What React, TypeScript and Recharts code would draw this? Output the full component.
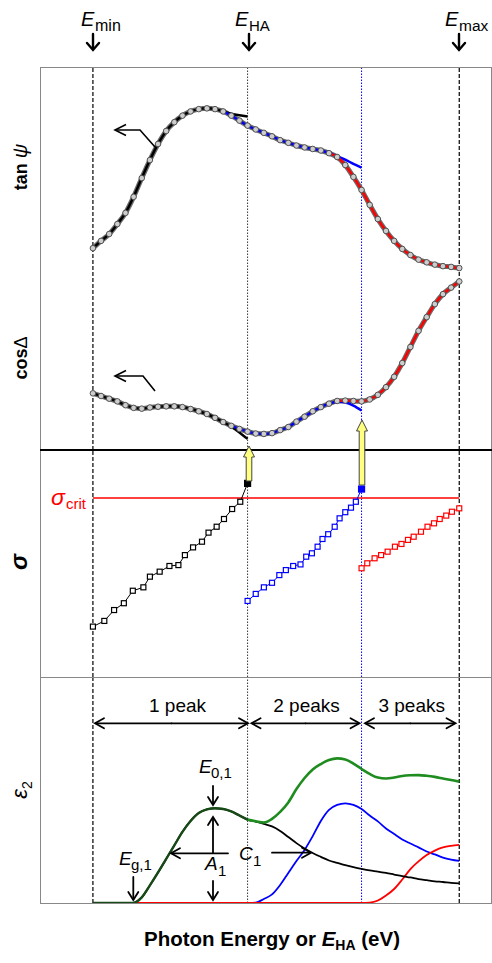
import React from 'react';
import { ComposedChart, ScatterChart, Line, Scatter, XAxis, YAxis, ReferenceLine } from 'recharts';

// photon energy grid (eV)
const energy = [
  1.5, 1.6, 1.7, 1.8, 1.9, 2.0, 2.1, 2.2, 2.3, 2.4, 2.5, 2.6, 2.7, 2.8, 2.9, 3.0,
  3.1, 3.2, 3.3, 3.4, 3.5, 3.6, 3.7, 3.8, 3.9, 4.0, 4.1, 4.2, 4.3, 4.4, 4.5, 4.6,
  4.7, 4.8, 4.9, 5.0, 5.1, 5.2, 5.3, 5.4, 5.5, 5.6, 5.7, 5.8, 5.9, 6.0,
];

const E_MIN = 1.5;
const E_HA = 3.4;
const E_2 = 4.8;
const E_MAX = 6.0;
const X_DOMAIN = [0.85, 6.39];

// measured tan psi / cos delta (arb. units)
const tanData = [
  52.7, 54.6, 56.4, 59.0, 61.9, 66.1, 71.0, 75.7, 79.9, 83.3, 85.6, 87.3, 88.4, 89.0, 89.2, 89.0,
  88.4, 87.3, 86.0, 84.7, 83.7, 82.8, 81.9, 80.9, 80.2, 79.5, 79.0, 78.6, 78.2, 77.5, 76.5, 74.4,
  71.3, 67.9, 64.0, 60.3, 57.2, 54.6, 52.5, 50.9, 49.7, 49.0, 48.4, 48.0, 47.8, 47.5,
];
const cosData = [
  14.8, 14.1, 13.4, 12.7, 11.7, 11.0, 10.8, 11.1, 11.3, 11.4, 11.4, 11.2, 10.7, 10.1, 9.4, 8.4,
  7.3, 6.3, 5.5, 4.8, 4.3, 4.2, 4.4, 5.2, 6.0, 7.4, 8.7, 10.1, 11.2, 12.1, 12.8, 12.9,
  12.8, 12.7, 13.2, 14.4, 16.4, 19.1, 22.7, 26.9, 31.1, 34.7, 38.1, 40.7, 42.4, 44.0,
];

// fits: 1 peak (black), 2 peaks (blue), 3 peaks (red); each starts at the given energy
const tanFit1From = 1.5;
const tanFit1 = [52.7, 54.6, 56.4, 59.0, 61.9, 66.1, 71.0, 75.7, 79.9, 83.3, 85.6, 87.3, 88.4, 89.0, 89.2, 89.0, 88.4, 87.8, 87.4, 87.1];
const tanFit2From = 3.1;
const tanFit2 = [88.4, 87.3, 86.0, 84.7, 83.7, 82.8, 81.9, 80.9, 80.2, 79.5, 79.0, 78.6, 78.2, 77.6, 76.7, 75.8, 74.7, 73.7];
const tanFit3From = 4.4;
const tanFit3 = [77.5, 76.5, 74.4, 71.3, 67.9, 64.0, 60.3, 57.2, 54.6, 52.5, 50.9, 49.7, 49.0, 48.4, 48.0, 47.8, 47.5];

const cosFit1From = 1.5;
const cosFit1 = [14.8, 14.1, 13.4, 12.7, 11.7, 11.0, 10.8, 11.1, 11.3, 11.4, 11.4, 11.2, 10.7, 10.1, 9.4, 8.4, 7.3, 6.1, 4.6, 2.9];
const cosFit2From = 3.2;
const cosFit2 = [6.3, 5.5, 4.8, 4.3, 4.2, 4.4, 5.2, 6.0, 7.4, 8.7, 10.1, 11.2, 12.1, 12.6, 12.4, 11.6, 10.3];
const cosFit3From = 4.5;
const cosFit3 = [12.8, 12.9, 12.8, 12.7, 13.2, 14.4, 16.4, 19.1, 22.7, 26.9, 31.1, 34.7, 38.1, 40.7, 42.4, 44.0];

// sigma vs E_HA
const sigmaCrit = 78.9;
const sigma1E = [1.5, 1.64, 1.76, 1.88, 1.99, 2.12, 2.2, 2.32, 2.44, 2.55, 2.63, 2.73, 2.84, 2.92, 3.02, 3.11, 3.21, 3.31, 3.4];
const sigma1 = [22.2, 24.7, 29.5, 32.5, 38.0, 39.5, 44.2, 46.4, 48.9, 49.3, 53.7, 57.1, 59.6, 63.6, 66.2, 69.6, 74.0, 77.2, 85.3];
const sigma2E = [3.4, 3.5, 3.6, 3.7, 3.79, 3.87, 3.96, 4.05, 4.12, 4.19, 4.26, 4.32, 4.39, 4.47, 4.53, 4.6, 4.67, 4.73, 4.8];
const sigma2 = [33.5, 36.6, 39.5, 41.5, 44.9, 47.1, 48.9, 49.6, 53.0, 54.5, 57.4, 60.8, 62.9, 66.2, 69.9, 72.6, 74.6, 77.2, 82.8];
const sigma3E = [4.8, 4.87, 4.96, 5.04, 5.12, 5.21, 5.29, 5.37, 5.44, 5.53, 5.61, 5.69, 5.76, 5.84, 5.91, 6.0];
const sigma3 = [47.9, 50.1, 52.3, 53.7, 55.2, 57.4, 58.6, 60.4, 61.8, 64.0, 66.2, 67.7, 69.6, 71.1, 72.8, 74.3];

// epsilon2 components
const epsTotal = [
  0, 0, 0, 0, 0, 0, 2.5, 7.8, 13.5, 19.5, 25.5, 31.5, 36.3, 39.8, 41.4, 41.9,
  41.6, 40.5, 38.7, 36.9, 36.2, 35.6, 37.2, 40.3, 44.5, 50.4, 55.3, 59.1, 61.5, 63.3, 64.0, 63.5,
  61.7, 59.3, 57.1, 55.5, 55.1, 55.5, 56.2, 56.5, 56.6, 56.3, 55.8, 55.1, 54.4, 53.7,
];
const eps1From = 2.0;
const eps1 = [
  0, 2.5, 7.8, 13.5, 19.5, 25.5, 31.5, 36.3, 39.8, 41.4, 41.9, 41.6, 40.5, 38.7, 36.9, 36.0,
  35.0, 33.9, 31.9, 29.2, 26.5, 24.1, 22.1, 20.4, 18.8, 17.8, 16.8, 15.9, 15.1, 14.4, 13.9, 13.3,
  12.6, 11.9, 11.3, 10.6, 10.1, 9.6, 9.3, 8.9, 8.7,
];
const eps2From = 3.4;
const eps2 = [0, 0.2, 1.8, 3.8, 8.0, 13.3, 18.6, 23.5, 29.6, 36.3, 41.2, 43.4, 44.1, 43.4, 41.6, 38.7, 36.1, 33.0, 30.5, 28.1, 26.3, 24.6, 22.8, 21.5, 20.1, 19.2, 18.6];
const eps3From = 2.0;
const eps3 = [
  0, 0, 0, 0, 0, 0, 0, 0, 0, 0, 0, 0, 0, 0, 0, 0, 0, 0, 0, 0, 0, 0, 0, 0, 0, 0, 0, 0, 0,
  0.2, 1.1, 3.3, 6.2, 10.4, 15.0, 18.4, 21.2, 23.2, 24.6, 25.3, 25.7,
];

const pick = (from: number, arr: number[], i: number) => {
  const j = i - energy.indexOf(from);
  return j >= 0 && j < arr.length ? arr[j] : null;
};

const topRows = energy.map((E, i) => ({
  E,
  tanData: tanData[i],
  tanFit1: pick(tanFit1From, tanFit1, i),
  tanFit2: pick(tanFit2From, tanFit2, i),
  tanFit3: pick(tanFit3From, tanFit3, i),
  cosData: cosData[i],
  cosFit1: pick(cosFit1From, cosFit1, i),
  cosFit2: pick(cosFit2From, cosFit2, i),
  cosFit3: pick(cosFit3From, cosFit3, i),
}));

const bottomRows = energy.map((E, i) => ({
  E,
  sumOne: E <= E_HA ? epsTotal[i] : null,
  sumMany: E >= E_HA ? epsTotal[i] : null,
  p1: pick(eps1From, eps1, i),
  p2: pick(eps2From, eps2, i),
  p3: pick(eps3From, eps3, i),
}));

const toPts = (xs: number[], ys: number[], lastFilled: boolean) =>
  xs.map((x, i) => ({ x, y: ys[i], filled: lastFilled && i === xs.length - 1 }));

const sigma1Pts = toPts(sigma1E, sigma1, true);
const sigma2Pts = toPts(sigma2E, sigma2, true);
const sigma3Pts = toPts(sigma3E, sigma3, false);

const PLOT_LEFT = 40;
const PLOT_W = 451;
const TOP_Y = 67;
const TOP_H = 383;
const MID_Y = 450;
const MID_H = 227;
const BOT_Y = 677;
const BOT_H = 226;
const FONT = "'Liberation Sans', Arial, sans-serif";

const noMargin = { top: 0, right: 0, bottom: 0, left: 0 };
const dataDot = { r: 2.8, fill: '#cdcdcd', stroke: '#444', strokeWidth: 0.9 };

const verticalLines = () => [
  <ReferenceLine key="vmin" x={E_MIN} stroke="#000" strokeDasharray="4 2" strokeWidth={1.2} />,
  <ReferenceLine key="vha" x={E_HA} stroke="#333" strokeDasharray="1.5 1.5" strokeWidth={1} />,
  <ReferenceLine key="v2" x={E_2} stroke="#0000ff" strokeDasharray="1.5 1.5" strokeWidth={1} />,
  <ReferenceLine key="vmax" x={E_MAX} stroke="#000" strokeDasharray="4 2" strokeWidth={1.2} />,
];

const square = (color: string) => (props: any) => {
  const { cx, cy, payload } = props;
  if (cx == null || cy == null) return <g />;
  const s = payload && payload.filled ? 6 : 5;
  return (
    <rect
      x={cx - s / 2}
      y={cy - s / 2}
      width={s}
      height={s}
      fill={payload && payload.filled ? color : '#fff'}
      stroke={color}
      strokeWidth={1.2}
    />
  );
};

const Arrow = ({ x1, y1, x2, y2, w = 1.8, head = 7, spread = 4.5, color = '#000' }: any) => {
  const dx = x2 - x1;
  const dy = y2 - y1;
  const len = Math.hypot(dx, dy);
  const ux = dx / len;
  const uy = dy / len;
  const bx = x2 - ux * head;
  const by = y2 - uy * head;
  const px = -uy * spread;
  const py = ux * spread;
  return (
    <g stroke={color} strokeWidth={w} fill="none" strokeLinecap="round">
      <line x1={x1} y1={y1} x2={x2 - ux} y2={y2 - uy} />
      <polyline points={`${bx + px},${by + py} ${x2},${y2} ${bx - px},${by - py}`} />
    </g>
  );
};

const DoubleArrow = ({ x1, x2, y }: any) => (
  <g>
    <Arrow x1={(x1 + x2) / 2} y1={y} x2={x1} y2={y} w={1.8} head={9} spread={5} />
    <Arrow x1={(x1 + x2) / 2} y1={y} x2={x2} y2={y} w={1.8} head={9} spread={5} />
  </g>
);

const YellowArrow = ({ x, tip, base }: any) => {
  const head = 11;
  const hw = 5.5;
  const sw = 2.8;
  const pts = [
    [x, tip], [x + hw, tip + head], [x + sw, tip + head], [x + sw, base],
    [x - sw, base], [x - sw, tip + head], [x - hw, tip + head],
  ].map((p) => p.join(',')).join(' ');
  return <polygon points={pts} fill="#ffff80" stroke="#444" strokeWidth={1} />;
};

const BentArrow = ({ sx, sy, cx, cy, tx }: any) => (
  <g stroke="#000" strokeWidth={1.6} fill="none">
    <polyline points={`${sx},${sy} ${cx},${cy} ${tx + 1},${cy}`} />
    <polyline points={`${tx + 11},${cy - 5.5} ${tx},${cy} ${tx + 11},${cy + 5.5}`} />
  </g>
);

const ELabel = ({ x, y, sub, size = 18, subSize = 15, subX, color = '#000' }: any) => (
  <g fill={color}>
    <text x={x} y={y} fontSize={size} fontStyle="italic">E</text>
    <text x={subX} y={y + 5} fontSize={subSize}>{sub}</text>
  </g>
);

export default function App() {
  return (
    <div style={{ position: 'absolute', left: 0, top: 0, width: 492, height: 963, background: '#fff', fontFamily: FONT }}>
      <div style={{ position: 'absolute', left: PLOT_LEFT, top: TOP_Y }}>
        <ComposedChart width={PLOT_W} height={TOP_H} data={topRows} margin={noMargin}>
          <XAxis type="number" dataKey="E" domain={X_DOMAIN} hide />
          <YAxis type="number" domain={[0, 100]} hide />
          {verticalLines()}
          <Line type="monotone" dataKey="tanData" stroke="#6a6a6a" strokeWidth={5} dot={dataDot} isAnimationActive={false} />
          <Line type="monotone" dataKey="cosData" stroke="#6a6a6a" strokeWidth={5} dot={dataDot} isAnimationActive={false} />
          <Line type="monotone" dataKey="tanFit1" stroke="#000" strokeWidth={2.5} dot={false} isAnimationActive={false} />
          <Line type="monotone" dataKey="cosFit1" stroke="#000" strokeWidth={2.5} dot={false} isAnimationActive={false} />
          <Line type="monotone" dataKey="tanFit2" stroke="#0000ff" strokeWidth={2.5} dot={false} isAnimationActive={false} />
          <Line type="monotone" dataKey="cosFit2" stroke="#0000ff" strokeWidth={2.5} dot={false} isAnimationActive={false} />
          <Line type="monotone" dataKey="tanFit3" stroke="#ff0000" strokeWidth={2.5} dot={false} isAnimationActive={false} />
          <Line type="monotone" dataKey="cosFit3" stroke="#ff0000" strokeWidth={2.5} dot={false} isAnimationActive={false} />
        </ComposedChart>
      </div>

      <div style={{ position: 'absolute', left: PLOT_LEFT, top: MID_Y }}>
        <ScatterChart width={PLOT_W} height={MID_H} margin={noMargin}>
          <XAxis type="number" dataKey="x" domain={X_DOMAIN} hide />
          <YAxis type="number" dataKey="y" domain={[0, 100]} hide />
          {verticalLines()}
          <ReferenceLine
            segment={[{ x: E_MIN, y: sigmaCrit }, { x: E_MAX, y: sigmaCrit }]}
            stroke="#ff0000"
            strokeWidth={1.5}
          />
          <Scatter data={sigma1Pts} line={{ stroke: '#000', strokeWidth: 1 }} shape={square('#000')} isAnimationActive={false} />
          <Scatter data={sigma2Pts} line={{ stroke: '#0000ff', strokeWidth: 1 }} shape={square('#0000ff')} isAnimationActive={false} />
          <Scatter data={sigma3Pts} line={{ stroke: '#ff0000', strokeWidth: 1 }} shape={square('#ff0000')} isAnimationActive={false} />
        </ScatterChart>
      </div>

      <div style={{ position: 'absolute', left: PLOT_LEFT, top: BOT_Y }}>
        <ComposedChart width={PLOT_W} height={BOT_H} data={bottomRows} margin={noMargin}>
          <XAxis type="number" dataKey="E" domain={X_DOMAIN} hide />
          <YAxis type="number" domain={[0, 100]} hide />
          {verticalLines()}
          <Line type="monotone" dataKey="p2" stroke="#0000ff" strokeWidth={1.8} dot={false} isAnimationActive={false} />
          <Line type="monotone" dataKey="p3" stroke="#ff0000" strokeWidth={1.8} dot={false} isAnimationActive={false} />
          <Line type="monotone" dataKey="p1" stroke="#000" strokeWidth={1.8} dot={false} isAnimationActive={false} />
          <Line type="monotone" dataKey="sumOne" stroke="#174a17" strokeWidth={2.4} dot={false} isAnimationActive={false} />
          <Line type="monotone" dataKey="sumMany" stroke="#1e8c1e" strokeWidth={2.6} dot={false} isAnimationActive={false} />
        </ComposedChart>
      </div>

      {/* frames */}
      <div style={{ position: 'absolute', left: PLOT_LEFT, top: TOP_Y, width: PLOT_W - 1, height: BOT_Y + BOT_H - TOP_Y - 1, border: '1px solid #888' }} />
      <div style={{ position: 'absolute', left: PLOT_LEFT, top: MID_Y - 1, width: PLOT_W + 1, height: 1.5, background: '#000' }} />
      <div style={{ position: 'absolute', left: PLOT_LEFT, top: BOT_Y, width: PLOT_W, height: 1, background: '#888' }} />

      <svg width={492} height={963} style={{ position: 'absolute', left: 0, top: 0, pointerEvents: 'none' }} fontFamily={FONT}>
        {/* energy markers on top */}
        <ELabel x={81} y={26} sub="min" subX={95} size={20} subSize={16} />
        <ELabel x={235} y={26} sub="HA" subX={249} size={20} subSize={15} />
        <ELabel x={445} y={26} sub="max" subX={459} size={20} subSize={15.5} />
        <Arrow x1={93} y1={34} x2={93} y2={50} w={2.4} head={7} spread={6} />
        <Arrow x1={249} y1={34} x2={249} y2={50} w={2.4} head={7} spread={6} />
        <Arrow x1={459} y1={34} x2={459} y2={50} w={2.4} head={7} spread={6} />

        {/* axis titles */}
        <text transform="translate(27,167) rotate(-90)" textAnchor="middle" fontSize={18} fontWeight="bold">
          tan <tspan fontStyle="italic" fontWeight="normal" fontSize={20}>ψ</tspan>
        </text>
        <text transform="translate(27,358) rotate(-90)" textAnchor="middle" fontSize={18} fontWeight="bold">
          cos<tspan fontWeight="normal">Δ</tspan>
        </text>
        <text transform="translate(27,562) rotate(-90)" textAnchor="middle" fontSize={24} fontWeight="bold" fontStyle="italic">σ</text>
        <text transform="translate(27,790) rotate(-90)" textAnchor="middle" fontSize={22} fontStyle="italic">
          ε<tspan fontSize={14} fontStyle="normal" dy={5}>2</tspan>
        </text>
        <text x={272} y={946} textAnchor="middle" fontSize={20.5} fontWeight="bold">
          Photon Energy or <tspan fontStyle="italic">E</tspan>
          <tspan fontSize={14} dy={4}>HA</tspan>
          <tspan dy={-4}> (eV)</tspan>
        </text>

        {/* top panel pointers */}
        <BentArrow sx={155} sy={147} cx={140} cy={130} tx={115} />
        <BentArrow sx={155} sy={391} cx={143} cy={376} tx={115} />

        {/* yellow arrows from sigma to spectra */}
        <YellowArrow x={249} tip={446} base={481} />
        <YellowArrow x={362} tip={420} base={485} />

        {/* sigma_crit */}
        <text x={51} y={505} fill="#ff0000" fontSize={23} fontStyle="italic">σ</text>
        <text x={66} y={509} fill="#ff0000" fontSize={15}>crit</text>

        {/* peak ranges */}
        <text x={177.5} y={712} textAnchor="middle" fontSize={19}>1 peak</text>
        <text x={306.5} y={712} textAnchor="middle" fontSize={19}>2 peaks</text>
        <text x={411.7} y={712} textAnchor="middle" fontSize={19}>3 peaks</text>
        <DoubleArrow x1={95} x2={248} y={723.3} />
        <DoubleArrow x1={251.5} x2={359.5} y={723.3} />
        <DoubleArrow x1={365} x2={455.5} y={723.3} />

        {/* peak parameters */}
        <ELabel x={199} y={773} sub="0,1" subX={211} size={19} />
        <Arrow x1={213} y1={786} x2={213} y2={805} w={1.8} head={8} spread={5} />
        <Arrow x1={213} y1={853} x2={213} y2={817} w={1.8} head={8} spread={5} />
        <text x={205} y={870} fontSize={19} fontStyle="italic">A</text>
        <text x={218} y={876} fontSize={15}>1</text>
        <Arrow x1={213} y1={881} x2={213} y2={900} w={1.8} head={8} spread={5} />
        <Arrow x1={228} y1={853.3} x2={171} y2={853.3} w={1.8} head={9} spread={5} />
        <text x={239} y={860} fontSize={19} fontStyle="italic">C</text>
        <text x={253} y={866} fontSize={15}>1</text>
        <Arrow x1={272} y1={852.7} x2={311} y2={852.7} w={1.8} head={9} spread={5} />
        <ELabel x={119} y={865} sub="g,1" subX={131} size={19} />
        <Arrow x1={133.3} y1={877} x2={133.3} y2={900} w={1.8} head={8} spread={5} />
      </svg>
    </div>
  );
}
